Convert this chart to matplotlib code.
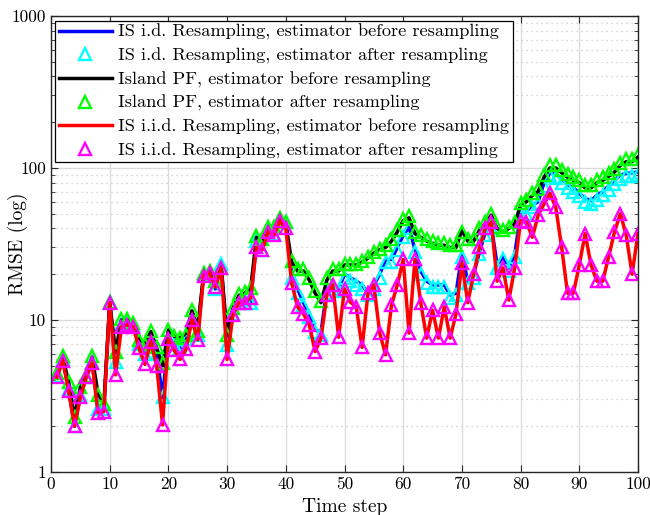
import matplotlib
matplotlib.use("Agg")
import matplotlib.pyplot as plt
from matplotlib.ticker import FixedLocator, FixedFormatter, LogLocator, NullFormatter
import numpy as np

plt.rcParams['font.family'] = ['cmr10', 'DejaVu Serif']
plt.rcParams['axes.formatter.use_mathtext'] = True
plt.rcParams['mathtext.fontset'] = 'cm'

time_steps = list(range(1, 101))

island_before = [4.4, 5.7, 3.9, 2.3, 3.6, 4.3, 5.7, 3.3, 2.8, 13,
                 6.2, 10, 10, 9.8, 7.5, 7, 8.4, 6.5, 5, 8.6,
                 7.8, 7.6, 8.2, 11.5, 9, 20, 21, 18, 22, 8,
                 12, 14.5, 15, 16, 35, 33, 40, 40, 46, 43,
                 24, 21, 21, 18.3, 15, 13, 18.3, 21, 21, 23,
                 23, 23, 24, 25.5, 27.5, 29, 30, 33, 38, 45,
                 47, 37, 35, 33, 32, 31, 31, 30, 30, 39,
                 33, 33, 39, 43, 49, 40, 38, 40, 43, 57,
                 60, 66, 70, 87, 100, 100, 93, 87, 83, 80,
                 74, 74, 80, 83, 88, 94, 104, 110, 110, 118]
island_after = [4.5, 5.8, 3.9, 2.3, 3.6, 4.3, 5.8, 3.2, 2.8, 13.2,
                6.2, 10.2, 10.2, 9.6, 7.4, 7, 8.4, 6.6, 5.2, 8.6,
                7.8, 7.6, 8, 11.6, 8.5, 20.5, 21, 18, 22, 8,
                12, 14.8, 15.3, 16.3, 35.5, 34, 41, 41, 47, 44,
                24.5, 21.5, 21.5, 18.8, 15.5, 13.3, 18.8, 21.5, 21.5, 23.5,
                23.5, 23.5, 24.5, 26, 28, 29.5, 31, 34, 39, 46,
                48, 38, 36, 34, 33, 32, 32, 31, 31, 38,
                34, 34, 40, 44, 50, 41, 39, 41, 44, 59,
                62, 68, 73, 90, 104, 104, 97, 91, 87, 83,
                77, 77, 83, 87, 92, 98, 108, 114, 114, 122]

isid_before = [4.3, 5.5, 3.5, 2.0, 3.2, 4.2, 5.3, 2.6, 2.6, 13,
               5.3, 9.3, 9.5, 9.3, 7, 6, 7.5, 6, 3.1, 7.5,
               7, 6.5, 7.5, 10, 8, 20, 20, 16, 23.5, 6.8,
               11, 13, 13.5, 13, 33, 29, 39, 37, 46, 44,
               20, 16, 13, 11, 8.6, 8.3, 16, 17, 16, 20,
               19, 18, 17, 15, 17, 20, 25, 25, 30, 36,
               41, 29, 21, 18, 17, 17, 17, 14.6, 15, 27,
               18, 20, 28, 38, 42, 23, 26, 22, 27, 50,
               52, 57, 60, 80, 93, 91, 85, 78, 74, 68,
               63, 61, 66, 70, 76, 83, 90, 92, 93, 94]
isid_after = [4.3, 5.5, 3.5, 2.0, 3.2, 4.2, 5.3, 2.6, 2.6, 13.2,
              5.3, 9.3, 9.5, 9.3, 7, 6, 7.5, 6, 3.1, 7.5,
              7, 6.5, 7.5, 10, 8, 20, 20, 16, 23.5, 6.8,
              11, 13, 13.5, 13, 33, 29, 39, 37, 46, 44,
              19, 15, 12.5, 10.5, 8.3, 8, 15, 16, 15.5, 19,
              18, 17, 16, 14.5, 16, 19, 24, 24, 29, 35,
              40, 28, 20, 17.5, 16.5, 16.5, 16.5, 14, 14.5, 26,
              17.5, 19, 27, 36, 40, 22, 25, 21, 26, 48,
              50, 55, 58, 76, 88, 86, 80, 74, 70, 65,
              60, 58, 62, 66, 72, 78, 85, 88, 89, 90]

isiid_before = [4.2, 5.4, 3.4, 2.0, 3.1, 4.2, 5.2, 2.45, 2.5, 13,
                4.35, 9, 9.3, 9, 6.5, 5.1, 7.2, 5, 2.04, 7.5,
                6.3, 5.5, 6.4, 10, 7.4, 19.5, 20.5, 16.5, 22, 5.5,
                10.8, 13, 13, 14, 30, 29, 38, 36, 45, 40,
                17.5, 12.2, 11, 9.3, 6.2, 7.6, 14.6, 17, 7.7, 16,
                13.1, 12.2, 6.6, 15, 17, 8.2, 5.9, 12.5, 17, 25,
                8.2, 25, 12.9, 7.6, 11.6, 7.6, 12.2, 7.6, 11, 23.7,
                13, 20, 30, 40, 44, 18, 22, 13.5, 22, 45,
                44, 35, 49, 58, 68, 55, 30, 15, 15, 23,
                37, 23, 18, 18, 26, 38, 50, 36, 20, 37]
isiid_after = [4.2, 5.4, 3.4, 2.0, 3.1, 4.2, 5.2, 2.45, 2.5, 13,
               4.35, 9, 9.3, 9, 6.5, 5.1, 7.2, 5, 2.04, 7.5,
               6.3, 5.5, 6.4, 10, 7.4, 19.5, 20.5, 16.5, 22, 5.5,
               10.8, 13, 13, 14, 30, 29, 38, 36, 45, 40,
               17.5, 12.2, 11, 9.3, 6.2, 7.6, 14.6, 17, 7.7, 16,
               13.1, 12.2, 6.6, 15, 17, 8.2, 5.9, 12.5, 17, 25,
               8.2, 25, 12.9, 7.6, 11.6, 7.6, 12.2, 7.6, 11, 23.7,
               13, 20, 30, 40, 44, 18, 22, 13.5, 22, 45,
               44, 35, 49, 58, 68, 55, 30, 15, 15, 23,
               37, 23, 18, 18, 26, 38, 50, 36, 20, 37]

legend_labels = ["IS i.d. Resampling, estimator before resampling",
                 "IS i.d. Resampling, estimator after resampling",
                 "Island PF, estimator before resampling",
                 "Island PF, estimator after resampling",
                 "IS i.i.d. Resampling, estimator before resampling",
                 "IS i.i.d. Resampling, estimator after resampling"]

x_ticks = [0, 10, 20, 30, 40, 50, 60, 70, 80, 90, 100]
y_ticks = [1, 10, 100, 1000]
y_tick_labels = ["1", "10", "100", "1000"]

fig = plt.figure(figsize=(6.5, 5.15), dpi=100)
ax = fig.add_axes([0.0785, 0.0835, 0.903, 0.8855])

lw = 2.5
ms = 8.3
mew = 1.7
h1, = ax.plot(time_steps, isid_before, color=(0, 0, 1), lw=lw)
h2, = ax.plot(time_steps, isid_after, ls='none', marker='^', ms=ms, mfc='none',
              mec=(0, 1, 1), mew=mew)
h3, = ax.plot(time_steps, island_before, color='black', lw=lw)
h4, = ax.plot(time_steps, island_after, ls='none', marker='^', ms=ms, mfc='none',
              mec=(0, 1, 0), mew=mew)
h5, = ax.plot(time_steps, isiid_before, color=(1, 0, 0), lw=lw)
h6, = ax.plot(time_steps, isiid_after, ls='none', marker='^', ms=ms, mfc='none',
              mec=(1, 0, 1), mew=mew)

ax.set_yscale('log')
ax.set_xlim(0, 100)
ax.set_ylim(1, 1000)
ax.xaxis.set_major_locator(FixedLocator(x_ticks))
ax.set_xticklabels([str(v) for v in x_ticks])
ax.yaxis.set_major_locator(FixedLocator(y_ticks))
ax.yaxis.set_major_formatter(FixedFormatter(y_tick_labels))
ax.yaxis.set_minor_locator(LogLocator(base=10, subs=np.arange(2, 10)))
ax.yaxis.set_minor_formatter(NullFormatter())

ax.grid(True, which='major', color='#dcdcdc', lw=1.0, ls='-')
ax.grid(True, which='minor', axis='y', color='#c8c8c8', lw=0.9, ls=(0, (1, 3)))
ax.set_axisbelow(True)

ax.tick_params(axis='both', which='both', direction='in', top=True, right=True,
               labelsize=12.5, colors='#262626', labelcolor='black')
ax.tick_params(axis='both', which='major', length=5, width=0.8)
ax.tick_params(axis='y', which='minor', length=3, width=0.6)
for sp in ax.spines.values():
    sp.set_color('#262626')
    sp.set_linewidth(1.0)

ax.set_xlabel("Time step", fontsize=14)
ax.xaxis.set_label_coords(0.5, -0.058)
ax.set_ylabel("RMSE (log)", fontsize=14)
ax.yaxis.set_label_coords(-0.04, 0.5)

leg = ax.legend([h1, h2, h3, h4, h5, h6], legend_labels, loc='upper left',
                bbox_to_anchor=(0.007, 0.99), fontsize=13.2, frameon=True,
                fancybox=False, framealpha=1, edgecolor='black',
                handlelength=2.9, handletextpad=0.35, borderpad=0.2,
                labelspacing=0.4, borderaxespad=0.0)
leg.get_frame().set_linewidth(0.9)
leg.set_zorder(10)

fig.savefig("out.png", dpi=100)
